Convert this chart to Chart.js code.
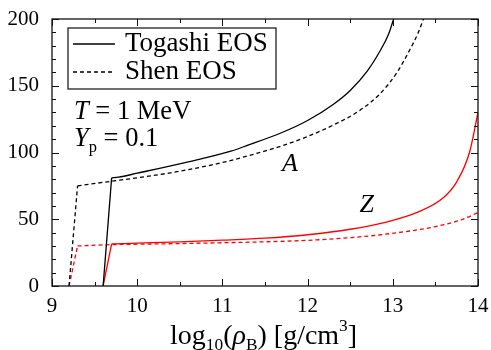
<!DOCTYPE html>
<html>
<head>
<meta charset="utf-8">
<script src="https://cdn.jsdelivr.net/npm/chart.js@4/dist/chart.umd.min.js"></script>
<style>
  html, body { margin: 0; padding: 0; background: #fff; }
  #wrap { width: 491px; height: 350px; }
</style>
</head>
<body>
<div id="wrap"><canvas id="c"></canvas></div>
<script>
// log10(rho_B) vs A and Z
const togashiA = [
  [9.6, 0], [9.7, 81], [9.78, 81.5], [10, 84.5], [10.6, 93], [11.1, 101], [11.3, 105.5],
  [11.7, 115], [12.0, 124], [12.3, 136], [12.5, 146.5], [12.7, 161], [12.85, 176],
  [12.95, 188.5], [13.01, 200],
];
const shenA = [
  [9.2, 0], [9.3, 75], [9.7, 78.5], [10, 81], [10.5, 86], [11, 92.5], [11.3, 97.5],
  [11.7, 105], [12.0, 112], [12.3, 120.5], [12.6, 131], [12.85, 144], [13.05, 160],
  [13.2, 177], [13.3, 190], [13.36, 200],
];
const togashiZ = [
  [9.6, 0], [9.7, 31.5], [10, 32.1], [10.5, 33.1], [11, 34.3], [11.5, 35.8], [12, 38.4],
  [12.5, 42.5], [12.9, 47.5], [13.3, 55.5], [13.6, 66.5], [13.75, 78], [13.9, 100],
  [14, 130],
];
const shenZ = [
  [9.2, 0], [9.3, 30], [9.7, 31], [10, 31.3], [10.5, 31.8], [11, 32.4], [11.5, 33.1],
  [12, 34.2], [12.5, 36.2], [12.9, 38.7], [13.2, 41.2], [13.5, 44.5], [13.8, 49.5],
  [14, 55],
];
const legendLabels = ['Togashi EOS', 'Shen EOS'];

const SERIF = '"Liberation Serif", "DejaVu Serif", serif';
const toXY = (arr) => arr.map(([x, y]) => ({ x, y }));

// the onset jump is straight, the rest of each curve is smooth
function series(data, color, dashed) {
  const base = {
    borderColor: color,
    borderWidth: 1.3,
    borderDash: dashed ? [4, 3] : [],
    pointRadius: 0,
    showLine: true,
    fill: false,
  };
  return [
    { ...base, data: toXY(data.slice(0, 2)), tension: 0 },
    { ...base, data: toXY(data.slice(1)), cubicInterpolationMode: 'monotone' },
  ];
}

// draw a run of text pieces: {t, it, sub, sup}
function richText(ctx, x, y, size, parts) {
  let cx = x;
  for (const p of parts) {
    const s = (p.sub || p.sup) ? size * 0.62 : size;
    ctx.font = `${p.it ? 'italic ' : ''}${s}px ${SERIF}`;
    let dy = 0;
    if (p.sub) dy = size * 0.22;
    if (p.sup) dy = -size * 0.45;
    ctx.fillText(p.t, cx, y + dy);
    cx += ctx.measureText(p.t).width;
  }
}

const framePlugin = {
  id: 'frame',
  afterDraw(chart) {
    const { ctx, chartArea: a, scales: { x, y } } = chart;
    ctx.save();
    ctx.strokeStyle = '#111';
    ctx.lineWidth = 1.3;
    ctx.strokeRect(a.left, a.top, a.right - a.left, a.bottom - a.top);

    ctx.lineWidth = 1;
    ctx.beginPath();
    for (let v = 9; v <= 14.001; v += 0.5) {
      const px = Math.round(x.getPixelForValue(v)) + 0.5;
      const len = Math.abs(v - Math.round(v)) < 1e-6 ? 7 : 4;
      ctx.moveTo(px, a.bottom); ctx.lineTo(px, a.bottom - len);
      ctx.moveTo(px, a.top); ctx.lineTo(px, a.top + len);
    }
    for (let v = 0; v <= 200; v += 10) {
      const py = Math.round(y.getPixelForValue(v)) + 0.5;
      const len = v % 50 === 0 ? 7 : 4;
      ctx.moveTo(a.left, py); ctx.lineTo(a.left + len, py);
      ctx.moveTo(a.right, py); ctx.lineTo(a.right - len, py);
    }
    ctx.stroke();

    // legend
    const lx = a.left + 16, ly = a.top + 9;
    ctx.lineWidth = 1.3;
    ctx.strokeStyle = '#222';
    ctx.strokeRect(lx, ly, 208, 61);
    ctx.strokeStyle = '#000';
    [[], [4, 3]].forEach((dash, i) => {
      const yy = ly + 16 + i * 28;
      ctx.setLineDash(dash);
      ctx.beginPath();
      ctx.moveTo(lx + 5, yy); ctx.lineTo(lx + 47, yy);
      ctx.stroke();
    });
    ctx.setLineDash([]);
    ctx.fillStyle = '#000';
    ctx.textBaseline = 'alphabetic';
    ctx.textAlign = 'left';
    ctx.font = `27px ${SERIF}`;
    ctx.fillText(legendLabels[0], lx + 57, ly + 23);
    ctx.fillText(legendLabels[1], lx + 57, ly + 51);

    // conditions
    richText(ctx, a.left + 22, a.top + 100, 26.5, [
      { t: 'T', it: true }, { t: ' = 1 MeV' },
    ]);
    richText(ctx, a.left + 22, a.top + 127, 26.5, [
      { t: 'Y', it: true }, { t: 'p', sub: true }, { t: ' = 0.1' },
    ]);

    // curve labels, anchored in data units
    ctx.font = `italic 26px ${SERIF}`;
    ctx.fillText('A', x.getPixelForValue(11.7), y.getPixelForValue(86));
    ctx.fillText('Z', x.getPixelForValue(12.61), y.getPixelForValue(55.4));

    // x axis title
    richText(ctx, 170, 344, 28, [
      { t: 'log' }, { t: '10', sub: true }, { t: '(' }, { t: 'ρ', it: true },
      { t: 'B', sub: true }, { t: ') [g/cm' }, { t: '3', sup: true }, { t: ']' },
    ]);
    ctx.restore();
  },
};

new Chart(document.getElementById('c'), {
  type: 'scatter',
  data: {
    datasets: [
      ...series(togashiA, '#000', false),
      ...series(shenA, '#000', true),
      ...series(togashiZ, '#ff0000', false),
      ...series(shenZ, '#ff0000', true),
    ],
  },
  plugins: [framePlugin],
  options: {
    responsive: true,
    maintainAspectRatio: false,
    animation: false,
    layout: { padding: { left: 0, right: 13, top: 19, bottom: 0 } },
    plugins: { legend: { display: false }, tooltip: { enabled: false } },
    scales: {
      x: {
        type: 'linear',
        min: 9,
        max: 14,
        grid: { display: false },
        border: { display: false },
        ticks: {
          stepSize: 1,
          padding: 0,
          color: '#000',
          font: { family: SERIF, size: 21 },
          maxRotation: 0,
        },
        afterFit(scale) { scale.height = 64; },
      },
      y: {
        min: 0,
        max: 200,
        grid: { display: false },
        border: { display: false },
        ticks: {
          stepSize: 50,
          padding: 5,
          color: '#000',
          font: { family: SERIF, size: 21 },
        },
        afterFit(scale) { scale.width = 52; },
      },
    },
  },
});
</script>
</body>
</html>
